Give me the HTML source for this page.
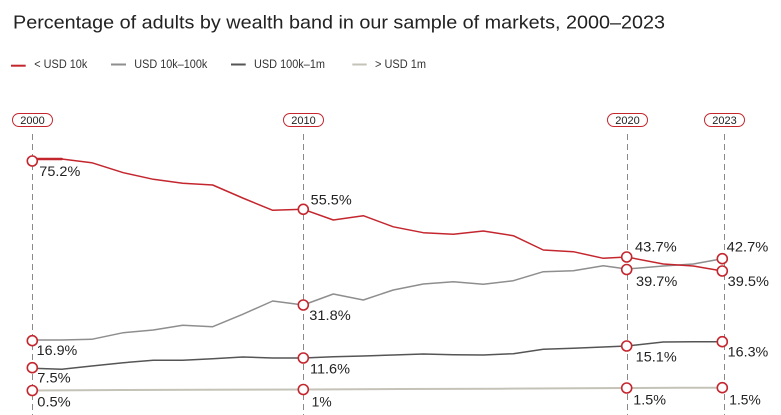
<!DOCTYPE html>
<html><head><meta charset="utf-8"><style>
html,body{margin:0;padding:0;background:#fff;}
svg{display:block;}
text{font-family:"Liberation Sans",sans-serif;}
</style></head><body>
<svg width="781" height="415" viewBox="0 0 781 415" xmlns="http://www.w3.org/2000/svg">
<rect width="781" height="415" fill="#fff"/>
<text x="13" y="28.5" font-size="18.5" fill="#222" textLength="652" lengthAdjust="spacingAndGlyphs">Percentage of adults by wealth band in our sample of markets, 2000–2023</text>

<!-- legend -->
<line x1="11" y1="65.7" x2="25.7" y2="65.7" stroke="#c4262e" stroke-width="2"/>
<text x="34.3" y="67.8" font-size="11.5" fill="#333" textLength="53" lengthAdjust="spacingAndGlyphs">&lt; USD 10k</text>
<line x1="111" y1="64.5" x2="126" y2="64.5" stroke="#8e8e8e" stroke-width="2"/>
<text x="134.3" y="67.8" font-size="11.5" fill="#333" textLength="73" lengthAdjust="spacingAndGlyphs">USD 10k–100k</text>
<line x1="231" y1="64.5" x2="245.7" y2="64.5" stroke="#555" stroke-width="2"/>
<text x="254" y="67.8" font-size="11.5" fill="#333" textLength="71" lengthAdjust="spacingAndGlyphs">USD 100k–1m</text>
<line x1="352.3" y1="64.5" x2="366.7" y2="64.5" stroke="#c5c3b8" stroke-width="2"/>
<text x="375" y="67.8" font-size="11.5" fill="#333" textLength="51" lengthAdjust="spacingAndGlyphs">&gt; USD 1m</text>

<!-- dashed year lines -->
<g stroke="#8a8a8a" stroke-width="1" stroke-dasharray="6 4">
<line x1="32.5" y1="134" x2="32.5" y2="415"/>
<line x1="303.5" y1="134" x2="303.5" y2="415"/>
<line x1="627.5" y1="134" x2="627.5" y2="415"/>
<line x1="724.5" y1="134" x2="724.5" y2="415"/>
</g>

<!-- year pills -->
<g fill="#fff" stroke="#c4262e" stroke-width="1">
<rect x="12.5" y="113.5" width="40" height="13" rx="6.5"/>
<rect x="283.5" y="113.5" width="40" height="13" rx="6.5"/>
<rect x="607.5" y="113.5" width="40" height="13" rx="6.5"/>
<rect x="704.5" y="113.5" width="40" height="13" rx="6.5"/>
</g>
<g font-size="11" fill="#222" text-anchor="middle">
<text x="32.5" y="124">2000</text>
<text x="303.5" y="124">2010</text>
<text x="627.5" y="124">2020</text>
<text x="724.5" y="124">2023</text>
</g>

<!-- series -->
<g fill="none" stroke-linejoin="round" stroke-linecap="round">
<polyline stroke="#c5c3b8" stroke-width="2" points="32.3,390.5 120,390 200,389.8 303.3,389.5 400,389 500,388.7 626.7,388 680,387.7 722.3,387.7"/>
<polyline stroke="#555" stroke-width="1.5" points="32.3,368.3 61.7,369.3 91.7,366 123.3,362.7 153.3,360.3 182.7,360.3 212.7,358.7 242.7,357 272.7,358 303.3,358 333.3,356.7 363.3,356 393.3,355 423.3,354 453.3,354.7 483.3,355 513.3,353.7 543.3,349.3 573.3,348.3 603.3,347 626.7,346 663.3,342 693.3,341.7 722.3,341.7"/>
<polyline stroke="#8e8e8e" stroke-width="1.5" points="32.3,340 61.7,340 91.7,339.3 123.3,332.7 153.3,330 182.7,325.3 212.7,326.7 242.7,314.3 272.7,301 303.3,305 333.3,294 363.3,300 393.3,290 423.3,284 453.3,281.7 483.3,284.3 513.3,280.7 543.3,271.7 573.3,270.7 603.3,265.7 626.7,269 663.3,266 693.3,264 722.3,258.7"/>
<polyline stroke="#c4262e" stroke-width="1.5" points="32.3,159 61.7,159 91.7,162.7 123.3,172.7 153.3,179.3 182.7,183.3 212.7,185 242.7,198 272.7,210.3 303.3,209.3 333.3,220 363.3,215.7 393.3,226.8 423.3,232.7 453.3,234.3 483.3,231 513.3,235.7 543.3,250 573.3,251.7 603.3,258.3 626.7,257 663.3,264 693.3,266 722.3,271"/>
<line x1="32.3" y1="159" x2="61.7" y2="159" stroke="#c4262e" stroke-width="2.5"/>
</g>

<!-- markers -->
<g fill="#fff" stroke="#c4262e" stroke-width="1.6">
<circle cx="32.3" cy="161" r="5"/>
<circle cx="32.3" cy="340.7" r="5"/>
<circle cx="32.3" cy="367.7" r="5"/>
<circle cx="32.3" cy="390.5" r="5"/>
<circle cx="303.3" cy="209.3" r="5"/>
<circle cx="303.3" cy="305" r="5"/>
<circle cx="303.3" cy="358" r="5"/>
<circle cx="303.3" cy="389.5" r="5"/>
<circle cx="626.7" cy="257" r="5"/>
<circle cx="626.7" cy="269.5" r="5"/>
<circle cx="626.7" cy="346" r="5"/>
<circle cx="626.7" cy="388" r="5"/>
<circle cx="722.3" cy="258.7" r="5"/>
<circle cx="722.3" cy="271" r="5"/>
<circle cx="722.3" cy="341.7" r="5"/>
<circle cx="722.3" cy="387.7" r="5"/>
</g>

<!-- value labels -->
<g font-size="13.5" fill="#222" lengthAdjust="spacingAndGlyphs">
<text x="39.3" y="176" textLength="41" lengthAdjust="spacingAndGlyphs">75.2%</text>
<text x="36.7" y="355" textLength="40.6" lengthAdjust="spacingAndGlyphs">16.9%</text>
<text x="37.3" y="382.3" textLength="33.4" lengthAdjust="spacingAndGlyphs">7.5%</text>
<text x="37.3" y="406.7" textLength="33.4" lengthAdjust="spacingAndGlyphs">0.5%</text>
<text x="310.7" y="204.3" textLength="41" lengthAdjust="spacingAndGlyphs">55.5%</text>
<text x="309.3" y="320" textLength="41.4" lengthAdjust="spacingAndGlyphs">31.8%</text>
<text x="310" y="373.3" textLength="40" lengthAdjust="spacingAndGlyphs">11.6%</text>
<text x="311.7" y="406.7" textLength="20" lengthAdjust="spacingAndGlyphs">1%</text>
<text x="635" y="251.7" textLength="41.7" lengthAdjust="spacingAndGlyphs">43.7%</text>
<text x="636" y="286" textLength="41.3" lengthAdjust="spacingAndGlyphs">39.7%</text>
<text x="635.7" y="361.7" textLength="41" lengthAdjust="spacingAndGlyphs">15.1%</text>
<text x="633.3" y="404.3" textLength="32.7" lengthAdjust="spacingAndGlyphs">1.5%</text>
<text x="726.7" y="251.7" textLength="41.6" lengthAdjust="spacingAndGlyphs">42.7%</text>
<text x="727.7" y="286" textLength="41.3" lengthAdjust="spacingAndGlyphs">39.5%</text>
<text x="727.7" y="356.7" textLength="40.6" lengthAdjust="spacingAndGlyphs">16.3%</text>
<text x="729.3" y="404.3" textLength="31.4" lengthAdjust="spacingAndGlyphs">1.5%</text>
</g>
</svg>
</body></html>
